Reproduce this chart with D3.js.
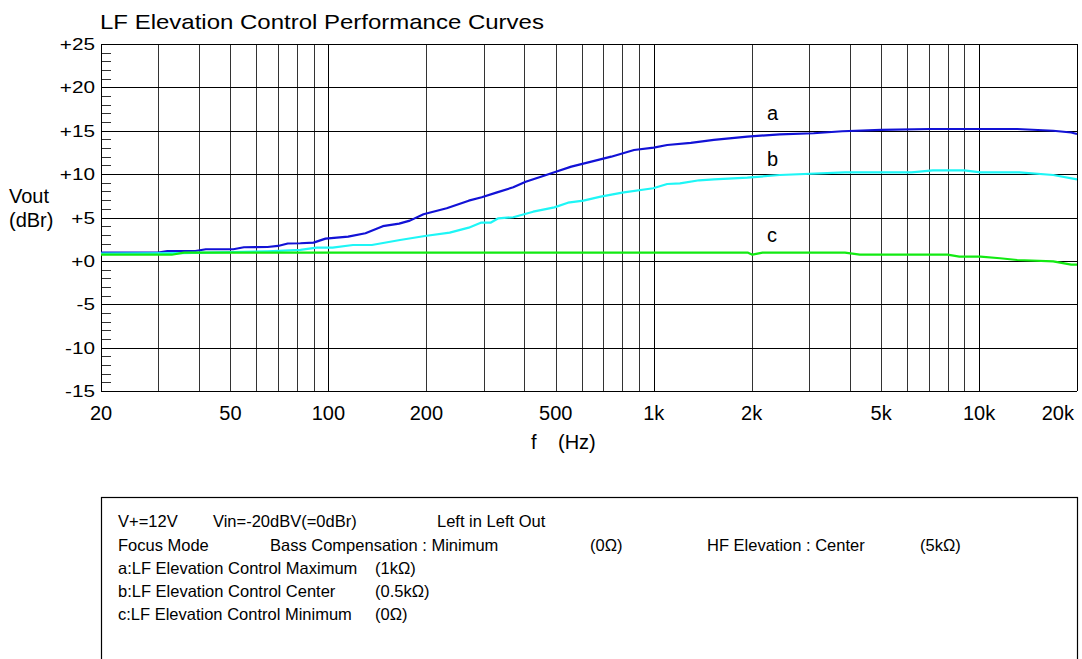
<!DOCTYPE html>
<html><head><meta charset="utf-8">
<script src="https://cdn.jsdelivr.net/npm/d3@7"></script>
<style>
body{margin:0;background:#fff}
text{font-family:"Liberation Sans",Arial,sans-serif;fill:#000}
</style>
</head><body>
<svg id="c" width="1082" height="659"></svg>
<script>
const title = "LF Elevation Control Performance Curves";
const yTicks = [-15,-10,-5,0,5,10,15,20,25];
const yTickLabels = ["-15","-10","-5","+0","+5","+10","+15","+20","+25"];
const xTicks = [20,50,100,200,500,1000,2000,5000,10000,20000];
const xTickLabels = ["20","50","100","200","500","1k","2k","5k","10k","20k"];
const xGrid = [30,40,50,60,70,80,90,100,200,300,400,500,600,700,800,900,1000,2000,3000,4000,5000,6000,7000,8000,9000,10000,20000];

// a: LF Elevation Control Maximum (blue)
const freqA = [20,30,32,39,42,51,55,65,70,75,82,90,98,115,130,147,165,178,196,231,270,296,330,370,404,450,495,558,643,740,870,1000,1100,1300,1530,1940,2440,3100,3800,5000,7100,13100,16900,19200,20000];
const valA  = [0.95,0.95,1.14,1.14,1.34,1.34,1.57,1.6,1.72,2.0,2.03,2.1,2.56,2.8,3.18,4.0,4.3,4.64,5.37,6.06,6.94,7.33,7.9,8.48,9.13,9.7,10.21,10.86,11.44,12.01,12.78,13.05,13.36,13.6,13.94,14.32,14.59,14.71,14.94,15.09,15.2,15.2,15.0,14.8,14.63];
// b: LF Elevation Control Center (cyan)
const freqB = [20,35,50,65,82,92,103,119,136,166,198,236,270,294,315,333,370,426,495,545,608,687,800,996,1100,1204,1380,1530,1940,2440,3870,6200,7200,9000,10100,13300,16900,20000];
const valB  = [0.85,0.9,1.0,1.1,1.26,1.52,1.52,1.83,1.83,2.41,2.87,3.25,3.83,4.4,4.4,4.91,5.03,5.67,6.17,6.71,6.94,7.4,7.86,8.37,8.86,8.94,9.29,9.4,9.59,9.9,10.21,10.21,10.44,10.44,10.21,10.21,9.9,9.4];
// c: LF Elevation Control Minimum (green)
const freqC = [20,33,36,1950,2010,2160,3870,4300,8000,8700,10100,11600,13100,16900,19200,20000];
const valC  = [0.71,0.71,0.95,0.95,0.72,0.95,0.95,0.72,0.72,0.49,0.49,0.3,0.1,-0.05,-0.44,-0.44];

const seriesNames = ["a","b","c"];
const seriesColors = ["#1212d6","#1ef6f6","#12ea12"];
const seriesLabelFreq = 2230;
const seriesLabelVal = [16.2, 10.9, 2.2];

const noteLines = [
  [["V+=12V",118],["Vin=-20dBV(=0dBr)",213],["Left in Left Out",437]],
  [["Focus Mode",118],["Bass Compensation : Minimum",270],["(0\u03A9)",590],["HF Elevation : Center",707],["(5k\u03A9)",920]],
  [["a:LF Elevation Control Maximum",118],["(1k\u03A9)",375]],
  [["b:LF Elevation Control Center",118],["(0.5k\u03A9)",375]],
  [["c:LF Elevation Control Minimum",118],["(0\u03A9)",375]]
];

const svg = d3.select("#c");
const L=101, R=1077, T=44, B=391;
const x = d3.scaleLog().domain([20,20000]).range([L,R]);
const y = d3.scaleLinear().domain([-15,25]).range([B,T]);

// title
svg.append("text").attr("transform",`translate(100,29) scale(1.2,1)`)
  .style("font-size","20px").text(title);

const g = svg.append("g");
// minor y ticks
const minor = d3.range(-15,26).filter(v=>v%5!==0);
g.selectAll(".mt").data(minor).join("line")
  .attr("x1",L).attr("x2",L+10).attr("y1",d=>Math.round(y(d))+0.5).attr("y2",d=>Math.round(y(d))+0.5)
  .attr("stroke","#333").attr("stroke-width",1);
// horizontal grid
g.selectAll(".hg").data(yTicks).join("line")
  .attr("x1",L).attr("x2",R).attr("y1",d=>Math.round(y(d))+0.5).attr("y2",d=>Math.round(y(d))+0.5)
  .attr("stroke","#000").attr("stroke-width",1);
// vertical grid
g.selectAll(".vg").data([20].concat(xGrid)).join("line")
  .attr("y1",T).attr("y2",B).attr("x1",d=>Math.round(x(d))+0.5).attr("x2",d=>Math.round(x(d))+0.5)
  .attr("stroke","#000").attr("stroke-opacity",d=>[20,100,1000,10000,20000].includes(d)?1:0.8).attr("stroke-width",1);

// y tick labels
svg.selectAll(".yl").data(yTicks).join("text")
  .attr("transform",d=>`translate(95,${y(d)+6}) scale(1.22,1)`)
  .attr("text-anchor","end").style("font-size","17px")
  .text((d,i)=>yTickLabels[i]);
// x tick labels
const nX = xTicks.length;
svg.selectAll(".xl").data(xTicks).join("text")
  .attr("x",(d,i)=> i===nX-1 ? R-3 : x(d)).attr("y",420)
  .attr("text-anchor",(d,i)=> i===nX-1 ? "end" : "middle").style("font-size","20px")
  .text((d,i)=>xTickLabels[i]);

// axis titles
svg.append("text").attr("x",9).attr("y",203).style("font-size","20px").text("Vout");
svg.append("text").attr("x",9).attr("y",227).style("font-size","20px").text("(dBr)");
svg.append("text").attr("x",531).attr("y",449).style("font-size","20px").text("f");
svg.append("text").attr("x",558).attr("y",449).style("font-size","20px").text("(Hz)");

// curves
const line = d3.line().x(d=>x(d[0])).y(d=>y(d[1]));
const data = [d3.zip(freqA,valA), d3.zip(freqB,valB), d3.zip(freqC,valC)];
svg.selectAll(".crv").data(data).join("path")
  .attr("d",line).attr("fill","none").attr("stroke",(d,i)=>seriesColors[i]).attr("stroke-width",2.2)
  .attr("stroke-linejoin","round");

// series labels
svg.selectAll(".sl").data(seriesNames).join("text")
  .attr("x",x(seriesLabelFreq)).attr("y",(d,i)=>y(seriesLabelVal[i])).style("font-size","20px").text(d=>d);

// note box
svg.append("rect").attr("x",L+0.5).attr("y",497.5).attr("width",R-L).attr("height",200)
  .attr("fill","none").attr("stroke","#000").attr("stroke-width",1.2);
const baselines = [527,551,574,597,620];
noteLines.forEach((ln,i)=>{
  ln.forEach(([t,xx])=>{
    svg.append("text").attr("x",xx).attr("y",baselines[i]).style("font-size","16.5px").text(t);
  });
});
</script>
</body></html>
